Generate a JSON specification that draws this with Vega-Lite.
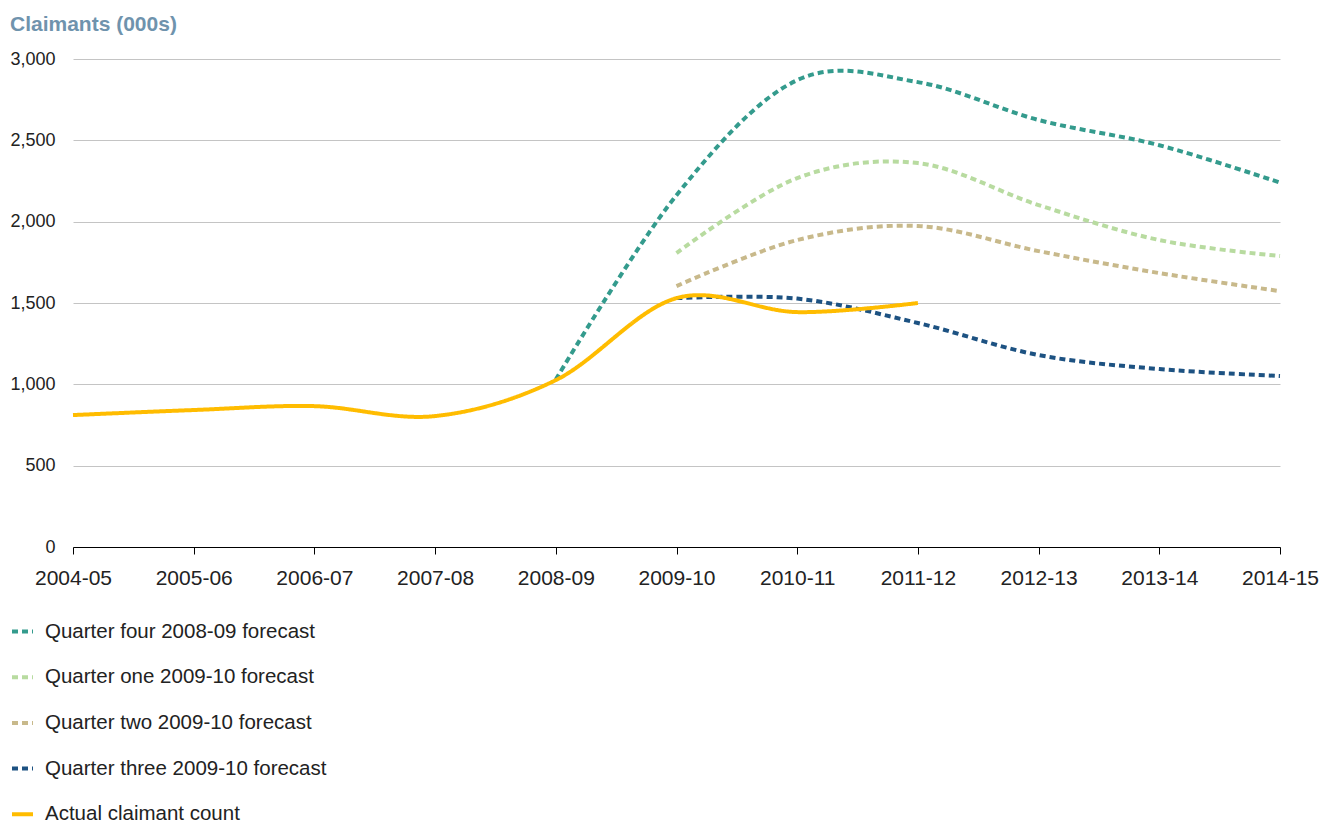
{
  "$schema": "https://vega.github.io/schema/vega-lite/v6.json",
  "width": 1207,
  "height": 488,
  "autosize": {"type": "none"},
  "padding": {"left": 73, "top": 59, "right": 44, "bottom": 276},
  "background": "white",
  "config": {
    "font": "Liberation Sans",
    "view": {"stroke": null}
  },
  "title": {
    "text": "Claimants (000s)",
    "anchor": "start",
    "frame": "group",
    "orient": "top",
    "dx": -63,
    "offset": 15,
    "fontSize": 21,
    "fontWeight": "bold",
    "color": "#6f93ad",
    "font": "Liberation Sans"
  },
  "data": {
    "values": [
      {"period": "2004-05", "series": "Actual claimant count", "value": 811},
      {"period": "2005-06", "series": "Actual claimant count", "value": 842},
      {"period": "2006-07", "series": "Actual claimant count", "value": 866},
      {"period": "2007-08", "series": "Actual claimant count", "value": 805},
      {"period": "2008-09", "series": "Actual claimant count", "value": 1026},
      {"period": "2009-10", "series": "Actual claimant count", "value": 1530},
      {"period": "2010-11", "series": "Actual claimant count", "value": 1444},
      {"period": "2011-12", "series": "Actual claimant count", "value": 1500},

      {"period": "2008-09", "series": "Quarter four 2008-09 forecast", "value": 1030},
      {"period": "2009-10", "series": "Quarter four 2008-09 forecast", "value": 2163},
      {"period": "2010-11", "series": "Quarter four 2008-09 forecast", "value": 2870},
      {"period": "2011-12", "series": "Quarter four 2008-09 forecast", "value": 2858},
      {"period": "2012-13", "series": "Quarter four 2008-09 forecast", "value": 2625},
      {"period": "2013-14", "series": "Quarter four 2008-09 forecast", "value": 2470},
      {"period": "2014-15", "series": "Quarter four 2008-09 forecast", "value": 2240},

      {"period": "2009-10", "series": "Quarter one 2009-10 forecast", "value": 1807},
      {"period": "2010-11", "series": "Quarter one 2009-10 forecast", "value": 2268},
      {"period": "2011-12", "series": "Quarter one 2009-10 forecast", "value": 2360},
      {"period": "2012-13", "series": "Quarter one 2009-10 forecast", "value": 2102},
      {"period": "2013-14", "series": "Quarter one 2009-10 forecast", "value": 1887},
      {"period": "2014-15", "series": "Quarter one 2009-10 forecast", "value": 1789},

      {"period": "2009-10", "series": "Quarter two 2009-10 forecast", "value": 1604},
      {"period": "2010-11", "series": "Quarter two 2009-10 forecast", "value": 1887},
      {"period": "2011-12", "series": "Quarter two 2009-10 forecast", "value": 1973},
      {"period": "2012-13", "series": "Quarter two 2009-10 forecast", "value": 1819},
      {"period": "2013-14", "series": "Quarter two 2009-10 forecast", "value": 1684},
      {"period": "2014-15", "series": "Quarter two 2009-10 forecast", "value": 1573},

      {"period": "2009-10", "series": "Quarter three 2009-10 forecast", "value": 1530},
      {"period": "2010-11", "series": "Quarter three 2009-10 forecast", "value": 1527},
      {"period": "2011-12", "series": "Quarter three 2009-10 forecast", "value": 1377},
      {"period": "2012-13", "series": "Quarter three 2009-10 forecast", "value": 1180},
      {"period": "2013-14", "series": "Quarter three 2009-10 forecast", "value": 1094},
      {"period": "2014-15", "series": "Quarter three 2009-10 forecast", "value": 1051}
    ]
  },
  "encoding": {
    "x": {
      "field": "period",
      "type": "ordinal",
      "sort": ["2004-05", "2005-06", "2006-07", "2007-08", "2008-09", "2009-10", "2010-11", "2011-12", "2012-13", "2013-14", "2014-15"],
      "scale": {"type": "point", "padding": 0},
      "axis": {
        "title": null,
        "labelAngle": 0,
        "labelFontSize": 21,
        "labelColor": "#222222",
        "labelPadding": 13,
        "domainColor": "#000000",
        "domainWidth": 1,
        "tickColor": "#000000",
        "tickSize": 7,
        "grid": false
      }
    },
    "y": {
      "field": "value",
      "type": "quantitative",
      "scale": {"domain": [0, 3000], "nice": false, "zero": true},
      "axis": {
        "title": null,
        "values": [0, 500, 1000, 1500, 2000, 2500, 3000],
        "format": ",.0f",
        "labelFontSize": 18,
        "labelColor": "#222222",
        "labelPadding": 18,
        "domain": false,
        "ticks": false,
        "grid": true,
        "gridColor": "#c4c4c4",
        "gridWidth": 1
      }
    },
    "color": {
      "field": "series",
      "type": "nominal",
      "scale": {
        "domain": ["Quarter four 2008-09 forecast", "Quarter one 2009-10 forecast", "Quarter two 2009-10 forecast", "Quarter three 2009-10 forecast", "Actual claimant count"],
        "range": ["#349b8d", "#b8dba0", "#c8b98b", "#1d5282", "#ffbc00"]
      },
      "legend": {
        "title": null,
        "orient": "none",
        "legendX": -63,
        "legendY": 560,
        "direction": "vertical",
        "labelFontSize": 20.5,
        "labelColor": "#222222",
        "labelOffset": 10,
        "labelLimit": 600,
        "rowPadding": 22.7,
        "symbolType": "stroke",
        "symbolSize": 441,
        "symbolStrokeWidth": 4
      }
    },
    "strokeDash": {
      "field": "series",
      "type": "nominal",
      "scale": {
        "domain": ["Quarter four 2008-09 forecast", "Quarter one 2009-10 forecast", "Quarter two 2009-10 forecast", "Quarter three 2009-10 forecast", "Actual claimant count"],
        "range": [[6, 4], [6, 4], [6, 4], [6, 4], [1, 0]]
      },
      "legend": null
    }
  },
  "layer": [
    {
      "transform": [{"filter": "datum.series !== 'Actual claimant count'"}],
      "mark": {"type": "line", "interpolate": "cardinal", "strokeWidth": 4}
    },
    {
      "transform": [{"filter": "datum.series === 'Actual claimant count'"}],
      "mark": {"type": "line", "interpolate": "cardinal", "strokeWidth": 4}
    }
  ]
}
